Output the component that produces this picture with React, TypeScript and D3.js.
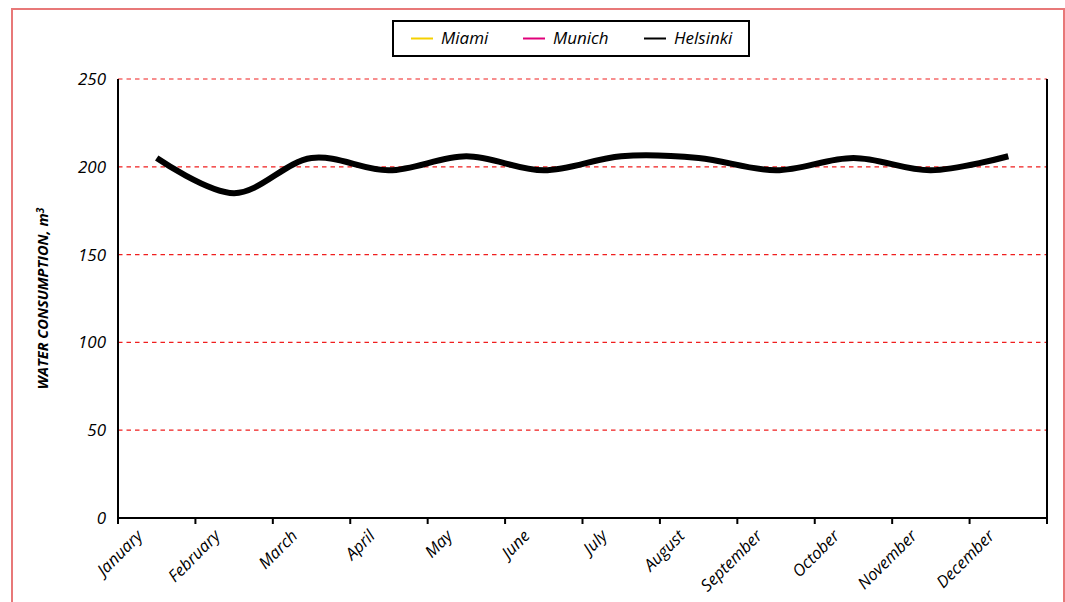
import * as d3 from "d3"
import { useEffect, useRef } from "react"

const months = [
  "January", "February", "March", "April", "May", "June",
  "July", "August", "September", "October", "November", "December",
]
const yTicks = [0, 50, 100, 150, 200, 250]
const helsinki = [205, 185, 205, 198, 206, 198, 206, 205, 198, 205, 198, 206]
// Miami and Munich appear only in the legend, no visible line in the chart
const miami: number[] = []
const munich: number[] = []

const seriesNames = ["Miami", "Munich", "Helsinki"]
const seriesColors = ["#f5d000", "#e0007a", "#000000"]
const seriesValues = [miami, munich, helsinki]

const App: React.FC = () => {
  const svgRef = useRef<SVGSVGElement | null>(null)

  useEffect(() => {
    if (!svgRef.current) return
    const svg = d3.select(svgRef.current)
    svg.selectAll("*").remove()

    const W = 1065
    const H = 602
    const margin = { top: 79, right: 18, bottom: 84, left: 118 }
    const width = W - margin.left - margin.right
    const height = H - margin.top - margin.bottom
    const font = "'Open Sans', 'DejaVu Sans', sans-serif"

    svg.attr("width", W).attr("height", H).style("font-family", font)

    // outer frame
    svg
      .append("rect")
      .attr("x", 12)
      .attr("y", 9)
      .attr("width", 1052)
      .attr("height", 610)
      .attr("fill", "#fff")
      .attr("stroke", "#e87878")
      .attr("stroke-width", 2)

    const chart = svg
      .append("g")
      .attr("transform", `translate(${margin.left},${margin.top})`)

    const x = d3.scaleBand().domain(months).range([0, width]).padding(0)
    const y = d3.scaleLinear().domain([0, 250]).range([height, 0])

    // gridlines
    chart
      .selectAll(".grid")
      .data(yTicks.filter((t) => t > 0))
      .enter()
      .append("line")
      .attr("x1", 0)
      .attr("x2", width)
      .attr("y1", (d) => y(d))
      .attr("y2", (d) => y(d))
      .attr("stroke", "#f01e1e")
      .attr("stroke-width", 1.2)
      .attr("stroke-dasharray", "4.5,4")

    // Y-Axis labels
    chart
      .selectAll(".ylab")
      .data(yTicks)
      .enter()
      .append("text")
      .attr("x", -12)
      .attr("y", (d) => y(d))
      .attr("dy", "0.35em")
      .attr("text-anchor", "end")
      .style("font-size", "17px")
      .style("font-style", "italic")
      .text((d) => d)

    // X-Axis ticks at category boundaries
    const boundaries = months.map((m) => x(m)!).concat([width])
    chart
      .selectAll(".xtick")
      .data(boundaries)
      .enter()
      .append("line")
      .attr("x1", (d) => d)
      .attr("x2", (d) => d)
      .attr("y1", height)
      .attr("y2", height + 6)
      .attr("stroke", "#000")
      .attr("stroke-width", 2)

    chart
      .selectAll(".xlab")
      .data(months)
      .enter()
      .append("text")
      .attr(
        "transform",
        (d) => `translate(${x(d)! + x.bandwidth() / 2 - 13},${height + 19}) rotate(-45)`,
      )
      .attr("text-anchor", "end")
      .style("font-size", "16.5px")
      .style("font-style", "italic")
      .text((d) => d)

    // axis lines
    chart
      .append("path")
      .attr("d", `M0,0V${height}H${width}V0`)
      .attr("fill", "none")
      .attr("stroke", "#000")
      .attr("stroke-width", 2)

    // Y title
    const title = chart
      .append("text")
      .attr("transform", `translate(-70,${height / 2}) rotate(-90)`)
      .attr("text-anchor", "middle")
      .style("font-size", "14.6px")
      .style("font-weight", "bold")
      .style("font-style", "italic")
    title.append("tspan").text("WATER CONSUMPTION, m")
    title.append("tspan").attr("dy", "-0.45em").style("font-size", "10px").text("3")

    // lines
    const line = d3
      .line<number>()
      .x((_, i) => x(months[i])! + x.bandwidth() / 2)
      .y((d) => y(d))
      .curve(d3.curveCatmullRom.alpha(0.5))

    seriesValues.forEach((vals, i) => {
      if (!vals.length) return
      chart
        .append("path")
        .datum(vals)
        .attr("d", line)
        .attr("fill", "none")
        .attr("stroke", seriesColors[i])
        .attr("stroke-width", 6)
        .attr("stroke-linejoin", "round")
    })

    // legend
    const legend = svg.append("g").attr("transform", "translate(393,21)")
    legend
      .append("rect")
      .attr("width", 356)
      .attr("height", 35)
      .attr("fill", "#fff")
      .attr("stroke", "#000")
      .attr("stroke-width", 2)
    const offsets = [18, 130, 251]
    seriesNames.forEach((name, i) => {
      const g = legend.append("g").attr("transform", `translate(${offsets[i]},17.5)`)
      g.append("line")
        .attr("x1", 0)
        .attr("x2", 22)
        .attr("stroke", seriesColors[i])
        .attr("stroke-width", 2)
      g.append("text")
        .attr("x", 30)
        .attr("dy", "0.35em")
        .style("font-size", "17px")
        .style("font-style", "italic")
        .text(name)
    })
  }, [])

  return (
    <svg
      ref={svgRef}
      style={{ position: "absolute", left: 0, top: 0, display: "block" }}
    />
  )
}

export default App
